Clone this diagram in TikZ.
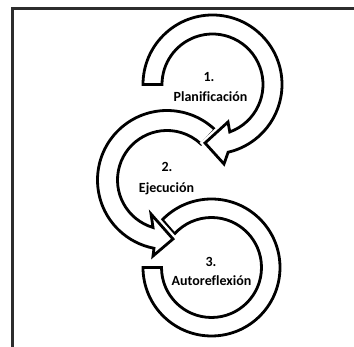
\documentclass[tikz,border=0pt]{standalone}
\usepackage{fontspec}
\setmainfont{Carlito}[Ligatures=NoCommon]
\usetikzlibrary{calc}
\tikzset{
  cyc/.style={draw=black, line width=2.8pt, fill=white, line join=miter},
  cychalo/.style={cyc, preaction={draw=white, line width=7.5pt}},
  lbl/.style={font=\bfseries\fontsize{14}{16}\selectfont, inner sep=0pt},
  frameline/.style={draw={rgb,255:red,45;green,45;blue,45}, line width=2.5pt}
}
\begin{document}
\begin{tikzpicture}[x=1pt,y=1pt]
\useasboundingbox (0,0) rectangle (354,347);
% frame (top and left only)
\draw[frameline] (12.5,0) -- (12.5,338.5) -- (354,338.5);
% centres of the three circular arrows
\coordinate (C1) at (212.5,262.5);
\coordinate (C2) at (167,167);
\coordinate (C3) at (211.5,79.5);
% arrow 3 (no head visible)
\draw[cyc] ([shift={(135.95:68.5)}]C3) arc[start angle=135.95, end angle=-180, radius=68.5]
  -- ([shift={(-180:50)}]C3) arc[start angle=-180, end angle=137.8, radius=50] -- cycle;
% arrow 2
\coordinate (b2l) at (153,91);
\coordinate (tip2) at (173,108);
\coordinate (b2u) at (151,133);
\draw[cychalo] ([shift={(46.2:69.5)}]C2) arc[start angle=46.2, end angle=259.2, radius=69.5]
  -- (b2l) -- (tip2) -- (b2u)
  -- ([shift={(253.6:49.5)}]C2) arc[start angle=253.6, end angle=46.6, radius=49.5] -- cycle;
% arrow 1
\coordinate (b1l) at (224,183);
\coordinate (tip1) at (205,204);
\coordinate (b1u) at (228,225);
\draw[cychalo] ([shift={(180:69.5)}]C1) arc[start angle=180, end angle=-77, radius=69.5]
  -- (b1l) -- (tip1) -- (b1u)
  -- ([shift={(-70:50.5)}]C1) arc[start angle=-70, end angle=180, radius=50.5] -- cycle;
% labels
\node[lbl] (t1a) at (209,270) {1.};
\node[lbl] (t1b) at (210.5,250) {Planificación};
\node[lbl] (t2a) at (167,180) {2.};
\node[lbl] (t2b) at (166.5,158) {Ejecución};
\node[lbl] (t3a) at (211,85) {3.};
\node[lbl] (t3b) at (211.5,66) {Autoreflexión};
\end{tikzpicture}
\end{document}
